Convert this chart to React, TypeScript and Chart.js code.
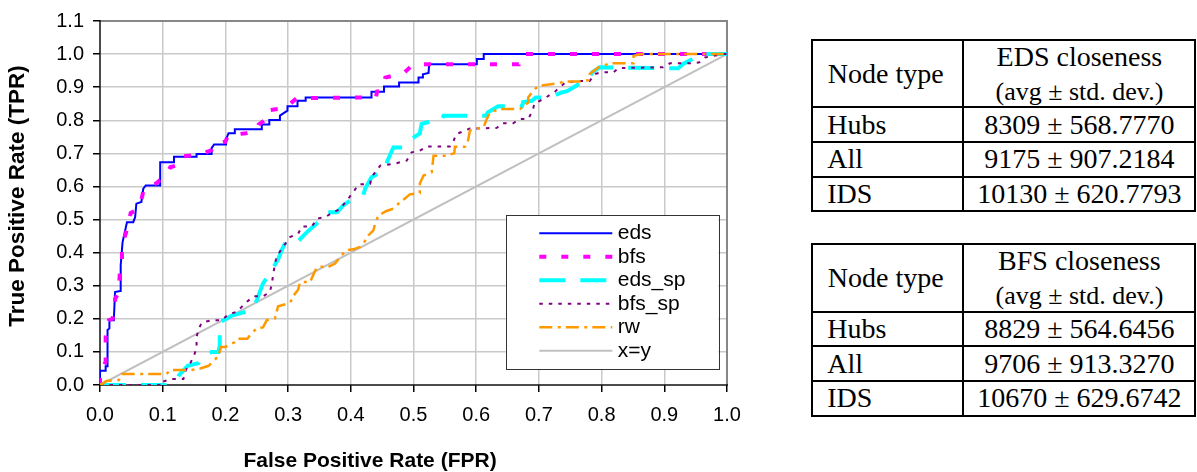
import React, { useEffect, useRef } from "react";
import { Chart, registerables } from "chart.js";

Chart.register(...registerables);

type Pt = [number, number];

// Axis ticks
const fprTicks = [0, 0.1, 0.2, 0.3, 0.4, 0.5, 0.6, 0.7, 0.8, 0.9, 1.0];
const tprTicks = [0, 0.1, 0.2, 0.3, 0.4, 0.5, 0.6, 0.7, 0.8, 0.9, 1.0, 1.1];

// ROC curves as [FPR, TPR] pairs
const eds: Pt[] = [
  [0, 0], [0, 0.043], [0.009, 0.043], [0.009, 0.057], [0.012, 0.057], [0.012, 0.166],
  [0.015, 0.171], [0.015, 0.196], [0.022, 0.196], [0.024, 0.281], [0.032, 0.284],
  [0.033, 0.362], [0.036, 0.432], [0.043, 0.492], [0.053, 0.492], [0.056, 0.507],
  [0.058, 0.548], [0.066, 0.553], [0.069, 0.593], [0.073, 0.603], [0.096, 0.603],
  [0.096, 0.673], [0.118, 0.673], [0.118, 0.69], [0.154, 0.69], [0.154, 0.698],
  [0.178, 0.698], [0.178, 0.716], [0.182, 0.727], [0.201, 0.727], [0.201, 0.742],
  [0.205, 0.761], [0.215, 0.761], [0.215, 0.773], [0.258, 0.773], [0.258, 0.787],
  [0.27, 0.787], [0.27, 0.801], [0.287, 0.801], [0.287, 0.814], [0.299, 0.829],
  [0.299, 0.842], [0.315, 0.842], [0.315, 0.859], [0.328, 0.859], [0.328, 0.869],
  [0.433, 0.869], [0.433, 0.886], [0.453, 0.886], [0.453, 0.902], [0.477, 0.902],
  [0.477, 0.914], [0.508, 0.914], [0.508, 0.929], [0.515, 0.929], [0.515, 0.939],
  [0.524, 0.943], [0.525, 0.969], [0.601, 0.969], [0.601, 0.985], [0.612, 0.985],
  [0.612, 1.0], [1.0, 1.0],
];

const bfs: Pt[] = [
  [0, 0], [0, 0.04], [0.009, 0.07], [0.009, 0.145], [0.014, 0.196], [0.02, 0.2],
  [0.024, 0.24], [0.024, 0.26], [0.03, 0.28], [0.032, 0.355], [0.035, 0.37],
  [0.035, 0.42], [0.043, 0.47], [0.049, 0.52], [0.055, 0.525], [0.06, 0.55],
  [0.066, 0.56], [0.07, 0.593], [0.08, 0.6], [0.09, 0.61], [0.098, 0.623],
  [0.105, 0.63], [0.112, 0.658], [0.125, 0.665], [0.13, 0.69], [0.161, 0.698],
  [0.178, 0.71], [0.181, 0.727], [0.2, 0.735], [0.204, 0.754], [0.233, 0.761],
  [0.25, 0.77], [0.253, 0.787], [0.263, 0.8], [0.266, 0.829], [0.295, 0.837],
  [0.314, 0.867], [0.44, 0.869], [0.442, 0.887], [0.45, 0.89], [0.455, 0.929],
  [0.484, 0.942], [0.5, 0.969], [0.668, 0.969], [0.672, 1.0], [1.0, 1.0],
];

const edsSp: Pt[] = [
  [0, 0], [0.106, 0], [0.115, 0.005], [0.122, 0.015], [0.126, 0.03], [0.14, 0.058],
  [0.157, 0.066], [0.16, 0.08], [0.178, 0.1], [0.189, 0.1], [0.191, 0.12],
  [0.191, 0.19], [0.202, 0.2], [0.21, 0.21], [0.242, 0.226], [0.25, 0.256],
  [0.26, 0.307], [0.271, 0.337], [0.284, 0.38], [0.292, 0.417], [0.297, 0.435],
  [0.316, 0.435], [0.33, 0.462], [0.348, 0.492], [0.362, 0.522], [0.378, 0.522],
  [0.388, 0.543], [0.404, 0.564], [0.42, 0.575], [0.423, 0.594], [0.433, 0.628],
  [0.452, 0.648], [0.462, 0.693], [0.468, 0.718], [0.485, 0.718], [0.497, 0.744],
  [0.51, 0.76], [0.513, 0.789], [0.532, 0.799], [0.545, 0.8], [0.548, 0.814],
  [0.615, 0.814], [0.619, 0.824], [0.635, 0.842], [0.673, 0.842], [0.675, 0.855],
  [0.689, 0.859], [0.695, 0.869], [0.718, 0.869], [0.736, 0.884], [0.745, 0.888],
  [0.76, 0.905], [0.766, 0.914], [0.779, 0.924], [0.785, 0.945], [0.797, 0.96],
  [0.922, 0.957], [0.93, 0.97], [0.945, 0.985], [0.965, 1.0], [1.0, 1.0],
];

const bfsSp: Pt[] = [
  [0, 0], [0.1, 0], [0.1, 0.01], [0.114, 0.018], [0.133, 0.018], [0.137, 0.046],
  [0.144, 0.066], [0.149, 0.085], [0.154, 0.11], [0.154, 0.146], [0.158, 0.171],
  [0.162, 0.188], [0.178, 0.196], [0.194, 0.196], [0.205, 0.214], [0.218, 0.221],
  [0.226, 0.236], [0.234, 0.251], [0.245, 0.268], [0.26, 0.268], [0.271, 0.281],
  [0.274, 0.306], [0.279, 0.367], [0.282, 0.389], [0.29, 0.412], [0.303, 0.447],
  [0.316, 0.457], [0.322, 0.479], [0.338, 0.479], [0.346, 0.503], [0.359, 0.507],
  [0.37, 0.52], [0.383, 0.532], [0.396, 0.563], [0.404, 0.583], [0.412, 0.606],
  [0.431, 0.608], [0.433, 0.628], [0.447, 0.663], [0.468, 0.668], [0.489, 0.678],
  [0.497, 0.703], [0.51, 0.708], [0.521, 0.721], [0.558, 0.721], [0.563, 0.733],
  [0.568, 0.758], [0.59, 0.775], [0.633, 0.777], [0.641, 0.791], [0.659, 0.791],
  [0.67, 0.804], [0.683, 0.804], [0.69, 0.829], [0.693, 0.851], [0.707, 0.864],
  [0.726, 0.887], [0.742, 0.914], [0.766, 0.919], [0.781, 0.919], [0.79, 0.94],
  [0.8, 0.945], [0.819, 0.945], [0.827, 0.958], [0.898, 0.96], [0.909, 0.972],
  [0.941, 0.972], [0.956, 0.975], [0.965, 0.99], [0.994, 1.0], [1.0, 1.0],
];

const rw: Pt[] = [
  [0, 0], [0.005, 0.005], [0.01, 0.012], [0.03, 0.015], [0.035, 0.033], [0.106, 0.033],
  [0.112, 0.045], [0.144, 0.045], [0.16, 0.05], [0.173, 0.058], [0.18, 0.07],
  [0.189, 0.088], [0.193, 0.115], [0.2, 0.115], [0.215, 0.13], [0.22, 0.14],
  [0.235, 0.14], [0.242, 0.157], [0.25, 0.171], [0.26, 0.174], [0.266, 0.196],
  [0.279, 0.201], [0.284, 0.238], [0.303, 0.248], [0.309, 0.271], [0.316, 0.288],
  [0.319, 0.311], [0.335, 0.311], [0.34, 0.332], [0.346, 0.357], [0.364, 0.357],
  [0.375, 0.367], [0.385, 0.392], [0.393, 0.407], [0.404, 0.41], [0.415, 0.417],
  [0.42, 0.427], [0.428, 0.452], [0.436, 0.467], [0.439, 0.489], [0.444, 0.512],
  [0.457, 0.526], [0.468, 0.533], [0.476, 0.548], [0.486, 0.563], [0.494, 0.576],
  [0.51, 0.58], [0.51, 0.608], [0.516, 0.633], [0.529, 0.643], [0.532, 0.693],
  [0.55, 0.693], [0.565, 0.7], [0.566, 0.72], [0.582, 0.72], [0.587, 0.739],
  [0.59, 0.769], [0.601, 0.774], [0.612, 0.78], [0.616, 0.8], [0.622, 0.824],
  [0.638, 0.834], [0.67, 0.834], [0.683, 0.854], [0.683, 0.869], [0.691, 0.889],
  [0.699, 0.904], [0.728, 0.911], [0.742, 0.917], [0.763, 0.917], [0.779, 0.921],
  [0.781, 0.94], [0.795, 0.96], [0.813, 0.972], [0.851, 0.972], [0.851, 0.995],
  [0.864, 1.0], [1.0, 1.0],
];

const diagonal: Pt[] = [[0, 0], [1, 1]];

// Closeness tables
const nodeTypes = ["Hubs", "All", "IDS"];
const edsAvg = [8309, 9175, 10130];
const edsStd = [568.777, 907.2184, 620.7793];
const bfsAvg = [8829, 9706, 10670];
const bfsStd = [564.6456, 913.327, 629.6742];

const SANS = '"Liberation Sans", Arial, sans-serif';
const SERIF = '"Liberation Serif", "Times New Roman", serif';

const series = [
  { label: "eds", points: eds, color: "#0000ff", width: 2, dash: [] as number[], order: 5 },
  { label: "bfs", points: bfs, color: "#ff00ff", width: 4, dash: [7, 15], order: 4 },
  { label: "eds_sp", points: edsSp, color: "#00ffff", width: 4, dash: [26, 15], order: 3 },
  { label: "bfs_sp", points: bfsSp, color: "#800080", width: 2, dash: [3.5, 6], order: 2 },
  { label: "rw", points: rw, color: "#ff9900", width: 2.5, dash: [13, 5.5, 3, 5], order: 1 },
  { label: "x=y", points: diagonal, color: "#c0c0c0", width: 2, dash: [] as number[], order: 6 },
];

const frame = {
  id: "rocFrame",
  beforeDatasetsDraw(chart: any) {
    const { ctx, chartArea: a } = chart;
    ctx.save();
    ctx.strokeStyle = "#878787";
    ctx.lineWidth = 2;
    ctx.beginPath();
    ctx.moveTo(a.left, a.top);
    ctx.lineTo(a.right, a.top);
    ctx.lineTo(a.right, a.bottom);
    ctx.stroke();
    ctx.strokeStyle = "#111";
    ctx.lineWidth = 1.5;
    ctx.beginPath();
    ctx.moveTo(a.left, a.top - 1);
    ctx.lineTo(a.left, a.bottom);
    ctx.lineTo(a.right + 1, a.bottom);
    ctx.stroke();
    ctx.restore();
  },
};

const legendBox = {
  id: "rocLegend",
  afterDatasetsDraw(chart: any) {
    const { ctx, chartArea: a } = chart;
    const w = 212.6;
    const h = 154;
    const left = a.right - 8.7 - w;
    const top = a.bottom - 16 - h;
    ctx.save();
    ctx.fillStyle = "#fff";
    ctx.fillRect(left, top, w, h);
    ctx.strokeStyle = "#333";
    ctx.lineWidth = 1;
    ctx.strokeRect(Math.round(left) + 0.5, Math.round(top) + 0.5, Math.round(w), Math.round(h));
    series.forEach((s, i) => {
      const y = top + 18.3 + i * 23.5;
      ctx.beginPath();
      ctx.setLineDash(s.dash);
      ctx.strokeStyle = s.color;
      ctx.lineWidth = s.width;
      ctx.moveTo(left + 33.6, y);
      ctx.lineTo(left + 106.6, y);
      ctx.stroke();
      ctx.setLineDash([]);
      ctx.fillStyle = "#000";
      ctx.font = `21px ${SANS}`;
      ctx.textAlign = "left";
      ctx.textBaseline = "middle";
      ctx.fillText(s.label, left + 112, y);
    });
    ctx.restore();
  },
};

const axisTitles = {
  id: "rocTitles",
  afterDraw(chart: any) {
    const { ctx } = chart;
    ctx.save();
    ctx.fillStyle = "#000";
    ctx.textAlign = "center";
    ctx.textBaseline = "middle";
    ctx.font = `bold 21px ${SANS}`;
    ctx.fillText("False Positive Rate (FPR)", 370, 461);
    ctx.font = `bold 22.5px ${SANS}`;
    ctx.translate(18, 196);
    ctx.rotate(-Math.PI / 2);
    ctx.fillText("True Positive Rate (TPR)", 0, 0);
    ctx.restore();
  },
};

function RocChart() {
  const ref = useRef<HTMLCanvasElement | null>(null);

  useEffect(() => {
    if (!ref.current) return;
    const edgeX = (c: any) => (c.tick && (c.tick.value === 0 || c.tick.value === 1) ? "rgba(0,0,0,0)" : "#c9c9c9");
    const edgeY = (c: any) => (c.tick && (c.tick.value === 0 || c.tick.value === 1.1) ? "rgba(0,0,0,0)" : "#c9c9c9");
    const chart = new Chart(ref.current, {
      type: "scatter",
      data: {
        datasets: series.map((s) => ({
          label: s.label,
          data: s.points.map(([x, y]) => ({ x, y })),
          showLine: true,
          borderColor: s.color,
          backgroundColor: s.color,
          borderWidth: s.width,
          borderDash: s.dash,
          pointRadius: 0,
          pointHoverRadius: 0,
          tension: 0,
          fill: false,
          order: s.order,
        })),
      },
      options: {
        animation: false,
        responsive: false,
        events: [],
        layout: { padding: { top: 21, right: 33, left: 0, bottom: 0 } },
        plugins: { legend: { display: false }, tooltip: { enabled: false } },
        scales: {
          x: {
            type: "linear",
            min: 0,
            max: 1,
            afterBuildTicks: (s: any) => {
              s.ticks = fprTicks.map((v) => ({ value: v }));
            },
            afterFit: (s: any) => {
              s.height = 87;
            },
            border: { display: false },
            grid: { color: edgeX, lineWidth: 1.5, tickColor: "#000", tickLength: 7, tickWidth: 1.5 },
            ticks: {
              autoSkip: false,
              maxRotation: 0,
              padding: 11,
              color: "#000",
              font: { family: SANS, size: 20 },
              callback: (v: any) => Number(v).toFixed(1),
            },
          },
          y: {
            type: "linear",
            min: 0,
            max: 1.1,
            afterBuildTicks: (s: any) => {
              s.ticks = tprTicks.map((v) => ({ value: v }));
            },
            afterFit: (s: any) => {
              s.width = 100;
            },
            border: { display: false },
            grid: { color: edgeY, lineWidth: 1.5, tickColor: "#000", tickLength: 7, tickWidth: 1.5 },
            ticks: {
              autoSkip: false,
              padding: 9,
              color: "#000",
              font: { family: SANS, size: 20 },
              callback: (v: any) => Number(v).toFixed(1),
            },
          },
        },
      },
      plugins: [frame, legendBox, axisTitles],
    } as any);
    return () => chart.destroy();
  }, []);

  return (
    <div style={{ position: "absolute", left: 0, top: 0, width: 760, height: 472 }}>
      <canvas ref={ref} width={760} height={472} style={{ display: "block" }} />
    </div>
  );
}

function ClosenessTable(props: { top: number; title: string; avg: number[]; std: number[] }) {
  const line = "2px solid #000";
  const cellText: React.CSSProperties = { fontFamily: SERIF, fontSize: 28, color: "#000", whiteSpace: "nowrap" };
  return (
    <div
      style={{
        position: "absolute",
        left: 811.3,
        top: props.top - 1,
        width: 385.2,
        border: line,
        boxSizing: "border-box",
        background: "#fff",
      }}
    >
      <div style={{ display: "flex", height: 65.3 }}>
        <div style={{ ...cellText, width: 149, display: "flex", alignItems: "center", paddingLeft: 14.5, boxSizing: "border-box" }}>
          Node type
        </div>
        <div
          style={{
            flex: 1,
            borderLeft: line,
            display: "flex",
            flexDirection: "column",
            alignItems: "center",
            justifyContent: "center",
          }}
        >
          <div style={{ ...cellText, lineHeight: "35px" }}>{props.title}</div>
          <div style={{ ...cellText, fontSize: 26, lineHeight: "35px" }}>(avg ± std. dev.)</div>
        </div>
      </div>
      {nodeTypes.map((name, i) => (
        <div key={name} style={{ display: "flex", height: 32.7, borderTop: line }}>
          <div style={{ ...cellText, width: 149, display: "flex", alignItems: "center", paddingLeft: 14, boxSizing: "border-box" }}>
            {name}
          </div>
          <div style={{ ...cellText, flex: 1, borderLeft: line, display: "flex", alignItems: "center", justifyContent: "center" }}>
            {`${props.avg[i]} ± ${props.std[i].toFixed(4)}`}
          </div>
        </div>
      ))}
    </div>
  );
}

export default function App() {
  return (
    <div style={{ position: "absolute", left: 0, top: 0, width: 1197, height: 472, background: "#fff", overflow: "hidden" }}>
      <RocChart />
      <ClosenessTable top={40} title="EDS closeness" avg={edsAvg} std={edsStd} />
      <ClosenessTable top={244.4} title="BFS closeness" avg={bfsAvg} std={bfsStd} />
    </div>
  );
}
